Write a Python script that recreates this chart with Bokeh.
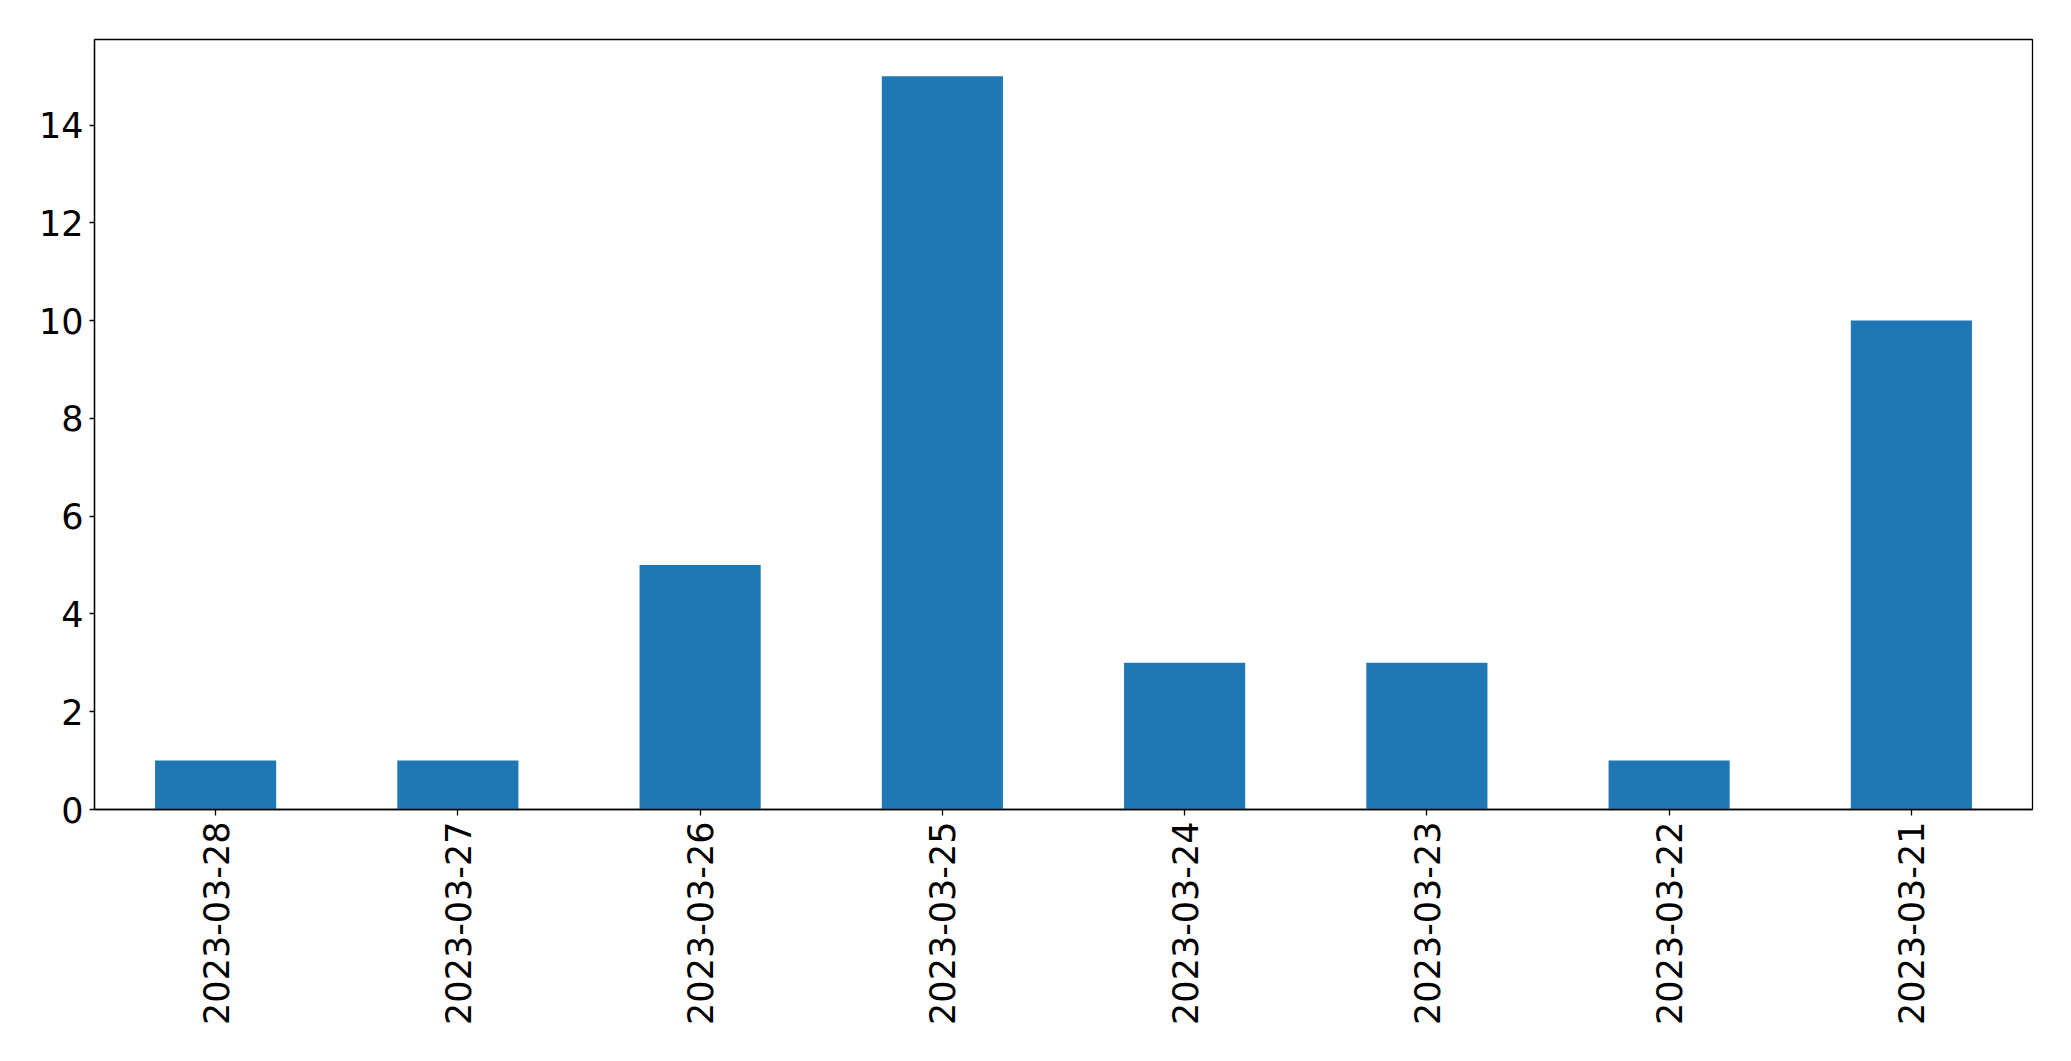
import math
from bokeh.plotting import figure
from bokeh.models import Range1d, FixedTicker
from bokeh.embed import file_html
from bokeh.resources import INLINE

dates = ["2023-03-28", "2023-03-27", "2023-03-26", "2023-03-25",
         "2023-03-24", "2023-03-23", "2023-03-22", "2023-03-21"]
counts = [1, 1, 5, 15, 3, 3, 1, 10]
y_ticks = [0, 2, 4, 6, 8, 10, 12, 14]

p = figure(x_range=dates, y_range=Range1d(0, 15.75),
           width=2063, height=1053, output_backend="svg",
           toolbar_location=None,
           min_border_left=94, min_border_right=31,
           min_border_top=39, min_border_bottom=244)

p.vbar(x=dates, top=counts, width=0.5, fill_color="#1f77b4", line_color=None)

p.xgrid.visible = False
p.ygrid.visible = False
p.outline_line_color = "black"
p.outline_line_width = 1.3
p.background_fill_color = "white"
p.border_fill_color = "white"
p.x_range.range_padding = 0

for ax in (p.xaxis[0], p.yaxis[0]):
    ax.axis_line_color = "black"
    ax.axis_line_width = 1.3
    ax.major_tick_line_color = "black"
    ax.major_tick_line_width = 1.3
    ax.major_tick_in = 0
    ax.minor_tick_line_color = None
    ax.major_label_text_font = "DejaVu Sans"
    ax.major_label_text_font_size = "35px"
    ax.major_label_text_color = "black"

p.yaxis[0].ticker = FixedTicker(ticks=y_ticks)
p.yaxis[0].major_tick_out = 5
p.yaxis[0].major_label_standoff = 6
p.xaxis[0].major_tick_out = 6
p.xaxis[0].major_label_standoff = 6
p.xaxis[0].major_label_orientation = math.pi / 2

open("out.html", "w").write(file_html(p, INLINE))
